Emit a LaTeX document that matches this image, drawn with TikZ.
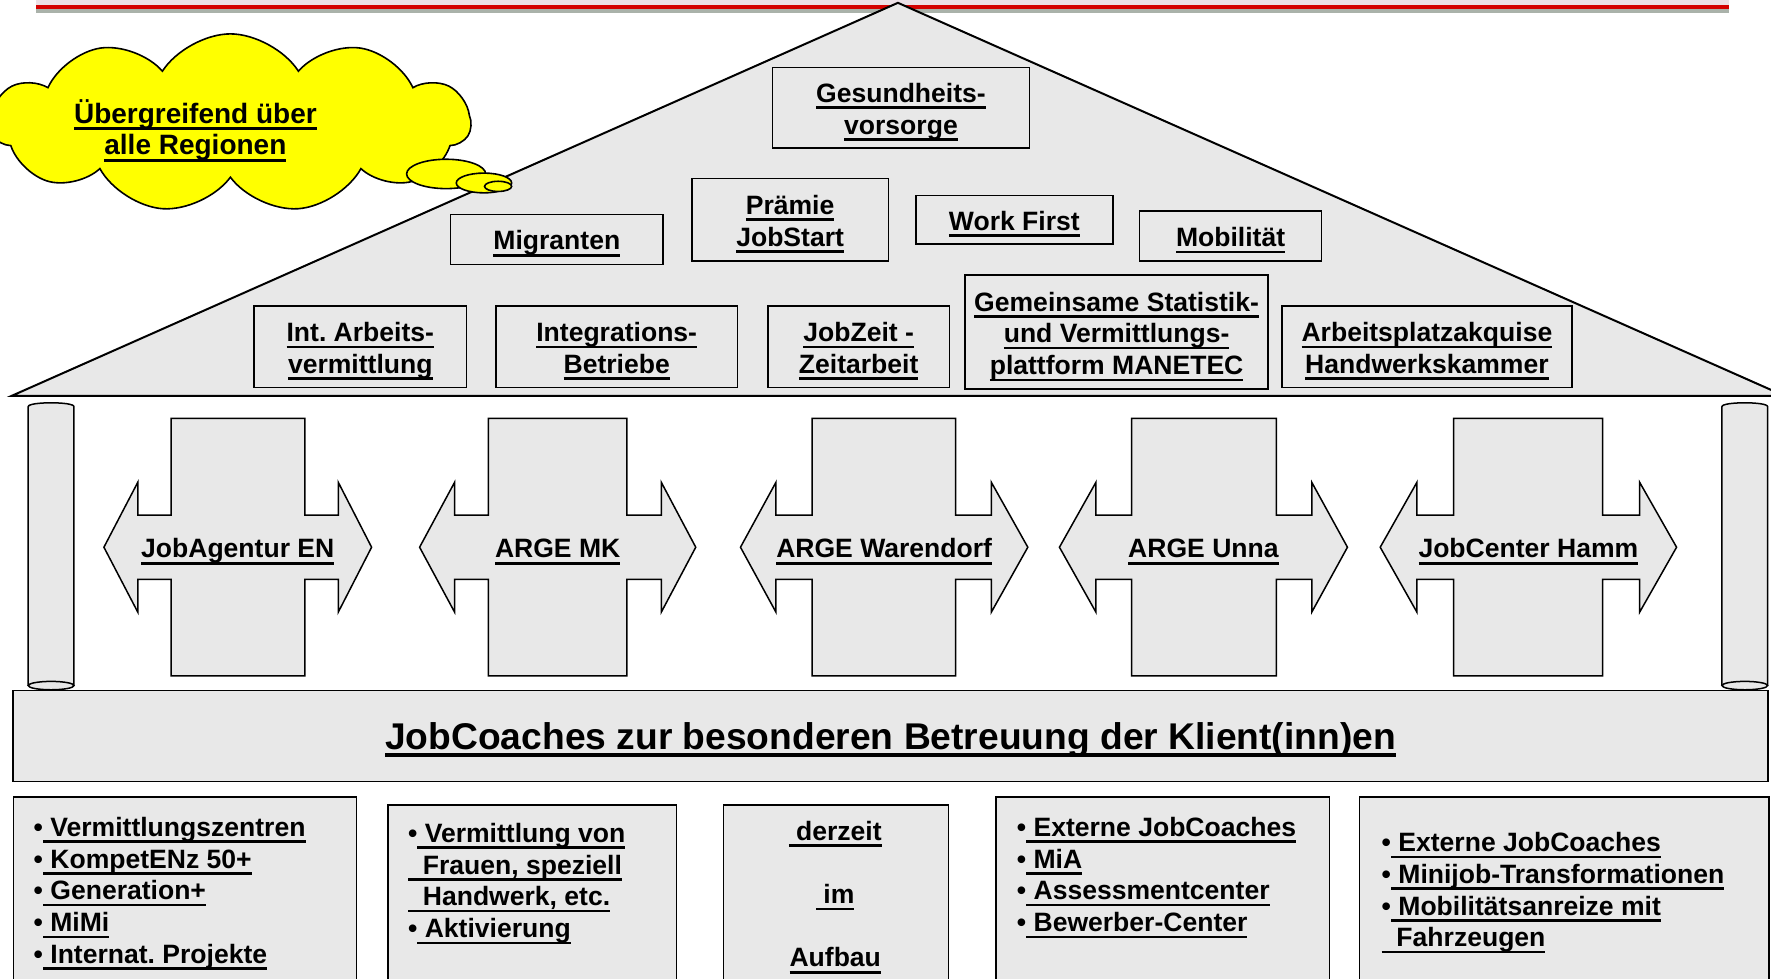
\documentclass[tikz,border=0pt]{standalone}
\usepackage{fontspec}
\setmainfont{Liberation Sans}
\usetikzlibrary{shapes.symbols,shapes.geometric}
\frenchspacing
\newdimen\pxu \pxu=0.5647pt
\newdimen\ulA \newdimen\ulB
\ulA=2.05pt \ulB=3.35pt
\newcommand\ulx[1]{\setbox0\hbox{#1}\rlap{\vrule height -\ulA depth \ulB width \wd0}\box0}
\newcommand\uln[1]{\strut\ulx{#1}}
\newcommand\tstrut{\rule{0pt}{15.3pt}}
\newcommand\boxfont{\fontsize{13.27}{15.85}\selectfont\bfseries\frenchspacing}
\newcommand\cloudfont{\fontsize{14}{15.85}\selectfont\bfseries\frenchspacing}
\newcommand\headfont{\fontsize{18.6}{22}\selectfont\bfseries\ulA=2pt\ulB=3.7pt}
\definecolor{fillgray}{HTML}{E8E8E8}
\definecolor{cloudyellow}{HTML}{FFFF00}
\definecolor{bandred}{HTML}{D40000}
\definecolor{bandpink}{HTML}{ECE0E6}
\definecolor{bandgray}{HTML}{AAB2AA}
\tikzset{
  gfill/.style={draw=black, line width=0.75pt, fill=fillgray},
  rbox/.style={gfill, rectangle, inner sep=0pt, align=center, font=\boxfont},
  lbl/.style={inner sep=0pt, font=\boxfont, align=center},
  txtl/.style={inner sep=0pt, font=\boxfont, align=left, anchor=north west},
  bubble/.style={ellipse, draw=black, line width=0.8pt, fill=cloudyellow, inner sep=0pt},
}
\newcommand\rbx[6]{\node[rbox, minimum width={(#3-#1)*\pxu}, minimum height={(#4-#2)*\pxu}] (#5) at ({(#1+#3)/2},{(#2+#4)/2}) {\tstrut#6};}
\newcommand\bbx[4]{\node[gfill, rectangle, inner sep=0pt, anchor=north west, minimum width={(#2-#1)*\pxu}, minimum height={220*\pxu}] (#4) at (#1,#3) {};}
\newcommand\crossarrow[8]{%
  \draw[gfill] (#3,370.5) -- (#4,370.5) -- (#4,456) -- (#5,456) -- (#5,427) -- (#6,484.5) -- (#5,542) -- (#5,513) -- (#4,513) -- (#4,598.5) -- (#3,598.5) -- (#3,513) -- (#2,513) -- (#2,542) -- (#1,484.5) -- (#2,427) -- (#2,456) -- (#3,456) -- cycle;
  \node[lbl, anchor=base] (#8) at ({(#1+#6)/2},494) {\ulx{#7}};}
\newcommand\pillar[2]{%
  \draw[gfill] (#1,607) -- (#1,360) .. controls (#1,355.5) and (#2,355.5) .. (#2,360) -- (#2,607);
  \draw[gfill] ({(#1+#2)/2},607) ellipse [x radius={(#2-#1)/2}, y radius=3.7];}
\begin{document}
\begin{tikzpicture}[x=0.5647pt, y=-0.5647pt]
\useasboundingbox (0,0) rectangle (1568,866);
\clip (0,0) rectangle (1568,866);
% top band
\fill[bandpink] (32,0) rectangle (1531,11.2);
\fill[bandgray] (32,8.3) rectangle (1531,11.2);
\fill[bandred] (32,4.4) rectangle (1531,8.3);
% roof
\draw[gfill, line width=1pt] (10.3,350.5) -- (795,2.5) -- (1580,350.5) -- cycle;
% roof boxes
\rbx{684}{59.6}{911.4}{131}{gesund}{\uln{Gesundheits-}\\\uln{vorsorge}}
\rbx{612.5}{158}{786.6}{231}{praemie}{\uln{Prämie}\\\uln{JobStart}}
\rbx{810.8}{173}{985.4}{216}{workfirst}{\uln{Work First}}
\rbx{399}{190}{587}{234}{migranten}{\uln{Migranten}}
\rbx{1009}{187}{1170}{231}{mobil}{\uln{Mobilität}}
\rbx{225}{271}{413}{343}{intarb}{\uln{Int. Arbeits-}\\\uln{vermittlung}}
\rbx{439}{271}{653}{343}{integ}{\uln{Integrations-}\\\uln{Betriebe}}
\rbx{680}{271}{840.5}{343}{jobzeit}{\uln{JobZeit -}\\\uln{Zeitarbeit}}
\rbx{854.5}{243.6}{1122.7}{344.6}{gemeins}{\uln{Gemeinsame Statistik-}\\\uln{und Vermittlungs-}\\\uln{plattform MANETEC}}
\rbx{1135}{271}{1391.7}{343}{arbeitsp}{\uln{Arbeitsplatzakquise}\\\uln{Handwerkskammer}}
% cloud
\node[cloud, cloud puffs=11, cloud puff arc=115, cloud ignores aspect, draw=black, line width=0.8pt, fill=cloudyellow, inner sep=0pt, minimum width={425*\pxu}, minimum height={158*\pxu}] (cloud) at (204,109) {};
\node[lbl, font=\cloudfont, anchor=north] (cloudtext) at (173,87.5) {\uln{Übergreifend über}\\\uln{alle Regionen}};
\node[bubble, minimum width={70*\pxu}, minimum height={26*\pxu}] (bub1) at (395,154) {};
\node[bubble, minimum width={49*\pxu}, minimum height={17.5*\pxu}] (bub2) at (428.5,162) {};
\node[bubble, minimum width={24*\pxu}, minimum height={9*\pxu}] (bub3) at (441,165) {};
% pillars
\pillar{25}{65.5}
\pillar{1524.6}{1565}
% region arrows
\crossarrow{92}{122}{151.5}{270}{299.5}{329}{JobAgentur EN}{en}
\crossarrow{371.5}{402.5}{432.5}{555}{585.5}{616}{ARGE MK}{mk}
\crossarrow{655.6}{687}{719}{846}{877.7}{910}{ARGE Warendorf}{waf}
\crossarrow{938}{970.3}{1002}{1130}{1161.4}{1193}{ARGE Unna}{unna}
\crossarrow{1222}{1254.5}{1287}{1419}{1451.7}{1484.4}{JobCenter Hamm}{hamm}
% foundation
\node[rbox, font=\headfont, text height=13.3pt, text depth=0pt, minimum width={1554*\pxu}, minimum height={80.5*\pxu}] (found) at (788.5,651.75) {\ulx{JobCoaches zur besonderen Betreuung der Klient(inn)en}};
% bottom boxes
\bbx{11.5}{315}{705}{b1}
\bbx{343}{598.5}{712}{b2}
\bbx{640}{839}{712}{b3}
\bbx{881}{1176.6}{705}{b4}
\bbx{1203}{1565.5}{705}{b5}
\node[txtl] (t1) at (29.5,720.5) {\strut•\ulx{\ Vermittlungszentren}\\\strut•\ulx{\ KompetENz 50+}\\\strut•\ulx{\ Generation+}\\\strut•\ulx{\ MiMi}\\\strut•\ulx{\ Internat. Projekte}};
\node[txtl] (t2) at (361,725.8) {\strut•\ulx{\ Vermittlung von}\\\uln{\ \ Frauen, speziell}\\\uln{\ \ Handwerk, etc.}\\\strut•\ulx{\ Aktivierung}};
\node[lbl, anchor=north] (t3) at (739.5,723.8) {\uln{\ derzeit}\\\strut\\\uln{\ im}\\\strut\\\uln{Aufbau}};
\node[txtl] (t4) at (900,720.5) {\strut•\ulx{\ Externe JobCoaches}\\\strut•\ulx{\ MiA}\\\strut•\ulx{\ Assessmentcenter}\\\strut•\ulx{\ Bewerber-Center}};
\node[txtl] (t5) at (1223,734) {\strut•\ulx{\ Externe JobCoaches}\\\strut•\ulx{\ Minijob-Transformationen}\\\strut•\ulx{\ Mobilitätsanreize mit}\\\uln{\ \ Fahrzeugen}};
\end{tikzpicture}
\end{document}
